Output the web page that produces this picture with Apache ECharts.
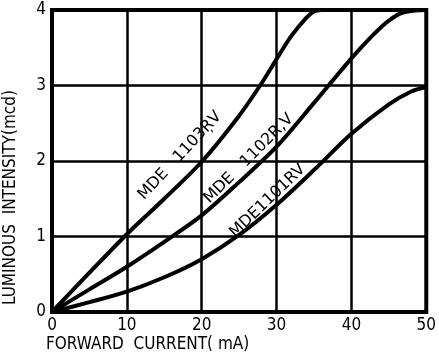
<!DOCTYPE html>
<html><head><meta charset="utf-8">
<script src="https://cdn.jsdelivr.net/npm/echarts@6/dist/echarts.min.js"></script>
<style>html,body{margin:0;padding:0;background:#fff}#c{width:439px;height:359px}</style>
</head><body><div id="c"></div>
<script>
const FONT = "'DejaVu Sans Condensed','Liberation Sans Narrow','DejaVu Sans',sans-serif";
const LFONT = "'DejaVu Sans',sans-serif";
const xTicks = [0, 10, 20, 30, 40, 50];
const yTicks = [0, 1, 2, 3, 4];
const cur1103 = [0, 5, 10, 15, 20, 25, 28, 30, 32, 34, 35, 36];
const lum1103 = [0, 0.52, 1.03, 1.5, 1.99, 2.6, 3.03, 3.35, 3.66, 3.9, 3.98, 4.0];
const cur1102 = [0, 5, 10, 15, 20, 25, 30, 35, 40, 43, 45, 47, 50];
const lum1102 = [0, 0.3, 0.6, 0.93, 1.28, 1.72, 2.19, 2.77, 3.36, 3.68, 3.86, 3.97, 4.0];
const cur1101 = [0, 5, 10, 15, 20, 25, 30, 35, 40, 45, 48, 50];
const lum1101 = [0, 0.13, 0.27, 0.46, 0.7, 1.02, 1.42, 1.88, 2.36, 2.75, 2.92, 2.98];
const labels = ['MDE   1103R\u0326V', 'MDE   1102R,V', 'MDE1101RV'];
const labelPos = [[17.1, 2.07], [26.3, 2.03], [28.8, 1.47]];
const labelRot = [47, 45, 44];

const chart = echarts.init(document.getElementById('c'), null, {renderer: 'canvas'});
const pairs = (xs, ys) => xs.map((x, i) => [x, ys[i]]);
const series = [[cur1103, lum1103], [cur1102, lum1102], [cur1101, lum1101]].map((d, i) => ({
  type: 'line', smooth: 0.3, symbol: 'none', data: pairs(d[0], d[1]),
  lineStyle: {color: '#000', width: 4}, z: 5,
  markPoint: {
    symbol: 'circle', symbolSize: 0, silent: true,
    data: [{coord: labelPos[i], value: labels[i]}],
    label: {show: true, position: 'inside', formatter: labels[i], rotate: labelRot[i],
      color: '#000', fontSize: 16, fontFamily: LFONT}
  }
}));
chart.setOption({
  animation: false,
  backgroundColor: '#fff',
  grid: {left: 52, right: 6, top: 10, bottom: 47, show: true, borderColor: '#000', borderWidth: 4},
  xAxis: {type: 'value', min: 0, max: 50, interval: 10,
    axisLine: {show: false}, axisTick: {show: false},
    splitLine: {show: true, lineStyle: {color: '#000', width: 2.5}},
    axisLabel: {color: '#000', fontSize: 17, fontFamily: FONT, margin: 5,
      formatter: v => xTicks.includes(v) ? String(v) : ''}},
  yAxis: {type: 'value', min: 0, max: 4, interval: 1,
    axisLine: {show: false}, axisTick: {show: false},
    splitLine: {show: true, lineStyle: {color: '#000', width: 2.5}},
    axisLabel: {color: '#000', fontSize: 17, fontFamily: FONT, margin: 6,
      formatter: v => yTicks.includes(v) ? String(v) : ''}},
  graphic: [
    {type: 'text', left: 46, top: 336, style: {text: 'FORWARD  CURRENT( mA)', font: '17px ' + FONT, fill: '#000'}},
    {type: 'text', x: 2, y: 305, rotation: Math.PI / 2,
      style: {text: 'LUMINOUS  INTENSITY(mcd)', font: '17px ' + FONT, fill: '#000', align: 'left', verticalAlign: 'top'}}
  ],
  series
});
</script></body></html>
